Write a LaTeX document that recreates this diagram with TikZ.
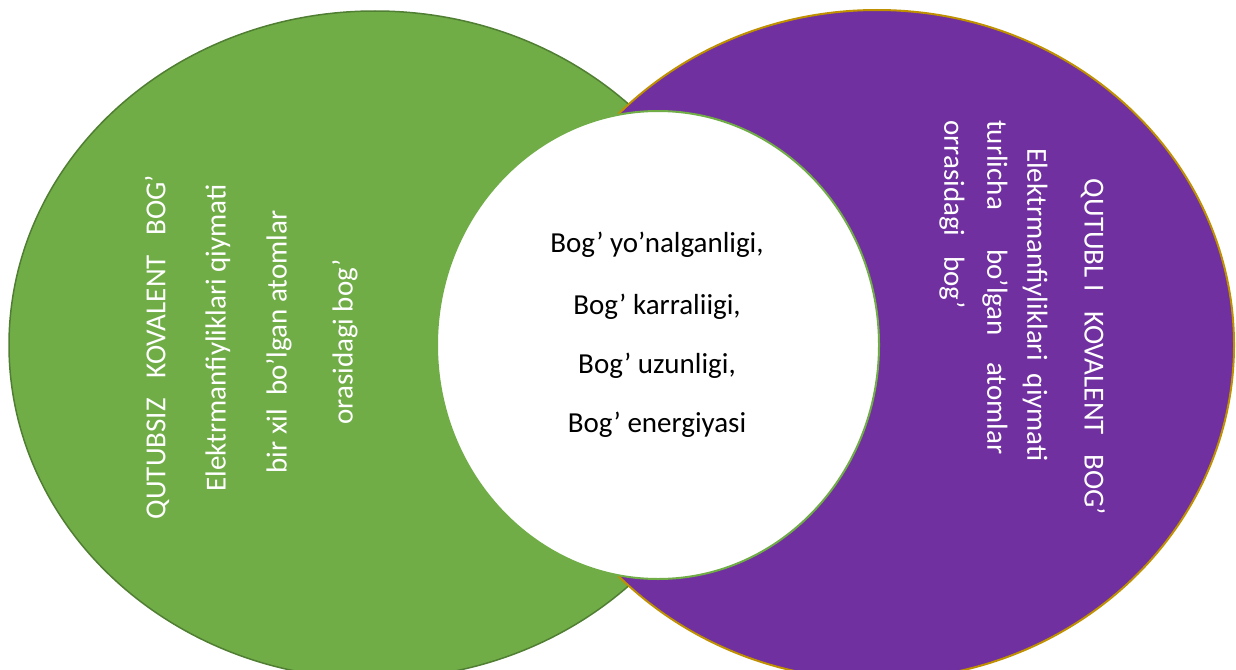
\documentclass[tikz,border=0pt]{standalone}
\usepackage{fontspec}
\setmainfont{Carlito}
\definecolor{leafgreen}{HTML}{70AD47}
\definecolor{leafedge}{HTML}{507E32}
\definecolor{plum}{HTML}{7030A0}
\definecolor{goldedge}{HTML}{BF9000}
\tikzset{
  lbl/.style={font=\fontsize{29}{34}\selectfont, inner sep=0pt},
  sidelbl/.style={lbl, text=white},
}
\begin{document}
\begin{tikzpicture}[x=1pt,y=-1pt]
\useasboundingbox (0,0) rectangle (1236,669);
\clip (0,0) rectangle (1236,669);
\draw[leafedge,fill=leafgreen,line width=1.5] (375,345) ellipse [x radius=366,y radius=334];
\draw[goldedge,fill=plum,line width=2] (877,345) ellipse [x radius=357,y radius=335];
\draw[leafgreen,fill=white,line width=2] (658,345) ellipse [x radius=221,y radius=234];
% left side
\node[sidelbl,rotate=90] (qsiz)  at (157,347) {QUTUBSIZ\ \ \ KOVALENT\ \ \ BOG’};
\node[sidelbl,rotate=90] (elekl) at (218,338) {Elektrmanfiyliklari qiymati};
\node[sidelbl,rotate=90] (birx)  at (279,342) {bir xil\ \ bo’lgan atomlar};
\node[sidelbl,rotate=90] (oral)  at (345,342) {orasidagi bog’};
% right side
\node[sidelbl,rotate=-90] (qbli)  at (1093,347) {QUTUBL I\ \ \ KOVALENT\ \ \ BOG’};
\node[sidelbl,rotate=-90] (elekr) at (1035,305) {Elektrmanfiyliklari\ \ qiymati};
\node[sidelbl,rotate=-90,anchor=west] (turl) at (995,120) {turlicha\ \ \ \ \ \ bo’lgan\ \ \ \ atomlar};
\node[sidelbl,rotate=-90,anchor=west] (orra) at (952,120) {orrasidagi\ \ \ bog’};
% middle
\node[lbl] (yon) at (657,245) {Bog’ yo’nalganligi,};
\node[lbl] (kar) at (657,307) {Bog’ karraliigi,};
\node[lbl] (uzu) at (657,366) {Bog’ uzunligi,};
\node[lbl] (ene) at (657,425) {Bog’ energiyasi};
\end{tikzpicture}
\end{document}
